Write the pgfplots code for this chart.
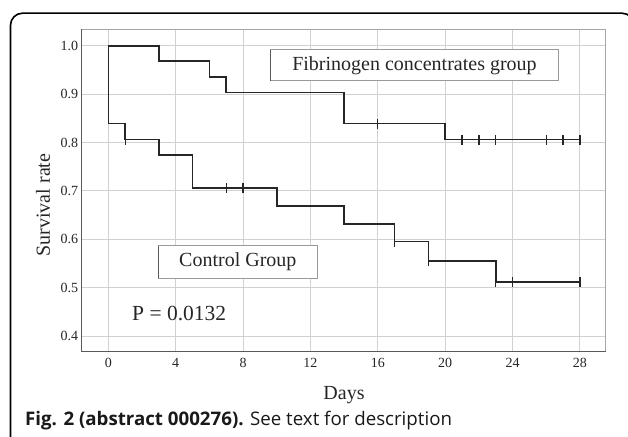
\documentclass[border=0pt]{standalone}
\usepackage{fontspec}
\setmainfont{Liberation Serif}
\newfontfamily\capfont{Open Sans}
\usepackage{pgfplots}
\pgfplotsset{compat=1.18}
\definecolor{curve}{HTML}{262626}
\begin{document}
\begin{tikzpicture}[x=1pt,y=1pt]
\path[use as bounding box] (0,0) rectangle (628,436);
\draw[line width=1.6pt, rounded corners=12pt] (10.5,-30) -- (10.5,422.8) -- (634,422.8) -- (634,-30);
\begin{axis}[
  at={(81.7pt,84.3pt)}, anchor=south west,
  scale only axis, width=524pt, height=322.4pt,
  xmin=-1.58, xmax=29.53, ymin=0.3676, ymax=1.034,
  xtick={0,4,8,12,16,20,24,28},
  ytick={0.4,0.5,0.6,0.7,0.8,0.9,1.0},
  yticklabel style={/pgf/number format/fixed,/pgf/number format/precision=1,/pgf/number format/fixed zerofill},
  /pgf/number format/assume math mode=true,
  tick label style={font=\fontsize{14}{16}\selectfont, text=black!85},
  xticklabel style={yshift=-3pt},
  grid=major,
  major grid style={draw=black!18, line width=1pt},
  tick style={draw=none},
  axis line style={draw=black!35, line width=1pt},
  clip=false,
]
\draw[black!65, line width=1.2pt] (rel axis cs:0,1) -- (rel axis cs:0,0) -- (rel axis cs:1,0);
% Fibrinogen concentrates group
\addplot[const plot, curve, line width=1.6pt] coordinates {
  (0,1.0) (3,0.968) (6,0.935) (7,0.903) (14,0.839) (20,0.806) (28,0.806)};
\addplot[only marks, mark=|, mark size=5pt, curve, mark options={line width=1.3pt}] coordinates {
  (16,0.839) (21,0.806) (22,0.806) (23,0.806) (26,0.806) (27,0.806) (28,0.806)};
% Control group
\addplot[const plot, curve, line width=1.6pt] coordinates {
  (0,1.0) (0,0.839) (1,0.806) (3,0.774) (5,0.706) (10,0.669) (14,0.632) (17,0.595) (19,0.555) (23,0.512) (28,0.512)};
\addplot[only marks, mark=|, mark size=5pt, curve, mark options={line width=1.3pt}] coordinates {
  (1,0.806) (7,0.706) (8,0.706) (17,0.595) (19,0.555) (23,0.512) (24,0.512) (28,0.512)};
\end{axis}
% annotation boxes
\draw[black!40, fill=white, line width=1pt] (270.7,386) rectangle (558.3,355);
\draw[black!65, line width=1.1pt] (270.7,386) -- (270.7,355);
\node[font=\fontsize{20}{22}\selectfont, text=black!85] at (414.5,370.5) {Fibrinogen concentrates group};
\draw[black!40, fill=white, line width=1pt] (158.3,190.3) rectangle (317.3,157.7);
\draw[black!65, line width=1.1pt] (158.3,190.3) -- (158.3,157.7);
\node[font=\fontsize{20}{22}\selectfont, text=black!85] at (237.8,174) {Control Group};
\node[font=\fontsize{21.5}{24}\selectfont, text=black!85, anchor=west, inner sep=0pt] at (132,122) {P = 0.0132};
% axis labels
\node[font=\fontsize{20}{22}\selectfont, text=black!85, rotate=90] at (43,231) {Survival rate};
\node[font=\fontsize{20}{22}\selectfont, text=black!85] at (344,41) {Days};
% caption
\node[anchor=base west, inner sep=0pt, font=\capfont\fontsize{18.7}{20}\selectfont, text=black!90] at (25,11) {\textbf{Fig. 2 (abstract 000276).} See text for description};
\end{tikzpicture}
\end{document}
